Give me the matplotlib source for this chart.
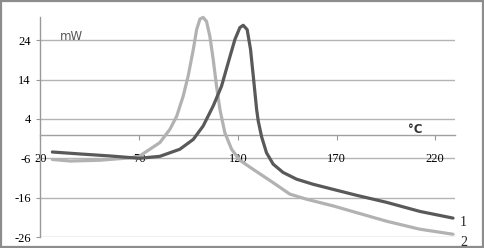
import matplotlib

matplotlib.use("Agg")
import matplotlib.pyplot as plt
from matplotlib.patches import Rectangle

# curve 1 (dark)
temp_1 = [26, 40, 55, 70, 80.5, 90.6, 97.4, 102.4, 107.5, 111.7, 115.1, 118.5, 121,
          122.7, 124.7, 126.4, 127.8, 129.5, 130.3, 132, 134.5, 137.9, 142.9, 149.7,
          158.1, 168.3, 180.1, 195.4, 212.2, 229]
heat_1 = [-4.4, -4.9, -5.4, -6.0, -5.5, -3.7, -1.2, 2.2, 7.3, 12.3, 18.3, 24.2, 27.2,
          27.8, 26.7, 21.7, 14.9, 6.4, 3.5, -0.5, -4.6, -7.5, -9.6, -11.3,
          -12.6, -13.9, -15.4, -17.2, -19.5, -21.2]

# curve 2 (light)
temp_2 = [26, 35, 50, 65, 70, 75.4, 80.5, 85.6, 89, 92.3, 94.8, 97.4, 99.1, 100.8,
          102.4, 104.1, 105.8, 107.5, 109.2, 110.9, 113.4, 116.8, 121, 127.7, 137.9,
          146.3, 154.8, 168.3, 178, 195.4, 212, 229]
heat_2 = [-6.3, -6.7, -6.5, -5.9, -5.5, -3.7, -2.0, 1.4, 4.7, 9.8, 14.9, 21.6, 26.7, 29.4,
          29.8, 28.8, 25, 19.1, 12.3, 6.4, 0.5, -3.7, -6.5, -8.8, -12.2,
          -15.1, -16.4, -18.1, -19.5, -22, -24, -25.3]

x_ticks = [20, 70, 120, 170, 220]
y_ticks = [-26, -16, -6, 4, 14, 24]

fig = plt.figure(figsize=(4.85, 2.48), dpi=100)
ax = fig.add_axes([40.5 / 485, 11 / 248, (455 - 40.5) / 485, (237 - 17) / 248])

grid_color = "#b4b4b4"
for y in y_ticks:
    ax.axhline(y, color=grid_color, linewidth=1.0, zorder=1)

ax.plot(temp_2, heat_2, color="#b2b2b2", linewidth=2.3, solid_capstyle="round",
        solid_joinstyle="round", zorder=3, clip_on=False)
ax.plot(temp_1, heat_1, color="#595959", linewidth=2.3, solid_capstyle="round",
        solid_joinstyle="round", zorder=4, clip_on=False)

ax.set_xlim(20, 230)
ax.set_ylim(-26, 29.9)

for side in ("top", "right"):
    ax.spines[side].set_visible(False)
ax.spines["left"].set_color("#999999")
ax.spines["left"].set_linewidth(1.0)
ax.spines["bottom"].set_position(("data", 0))
ax.spines["bottom"].set_color("#a0a0a0")
ax.spines["bottom"].set_linewidth(1.0)

serif = ["Liberation Serif", "DejaVu Serif"]
ax.set_xticks(x_ticks)
ax.set_yticks(y_ticks)
ax.set_xticklabels([str(v) for v in x_ticks], family=serif, fontsize=9)
ax.set_yticklabels([str(v) for v in y_ticks], family=serif, fontsize=9)
ax.tick_params(axis="x", direction="out", length=3.5, width=0.8, color="#999999", pad=10)
ax.tick_params(axis="y", direction="out", length=3, width=0.8, color="#999999", pad=4)

ax.text(0.047, 0.91, "mW", transform=ax.transAxes, fontsize=8.5, color="#555555",
        family="DejaVu Sans", ha="left", va="center")
ax.text(0.905, 0.49, "°C", transform=ax.transAxes, fontsize=8.5, color="#333333",
        family="DejaVu Sans", fontweight="bold", ha="center", va="center")

ax.text(460 / 485, 1 - 222 / 248, "1", transform=fig.transFigure, family=serif,
        fontsize=10, ha="left", va="center", color="#222222")
ax.text(460 / 485, 1 - 242 / 248, "2", transform=fig.transFigure, family=serif,
        fontsize=10, ha="left", va="center", color="#222222")

fig.patches.append(Rectangle((0.002, 0.004), 0.994, 0.99, transform=fig.transFigure,
                             fill=False, edgecolor="#8c8c8c", linewidth=1.6))

fig.savefig("out.png", dpi=100)
